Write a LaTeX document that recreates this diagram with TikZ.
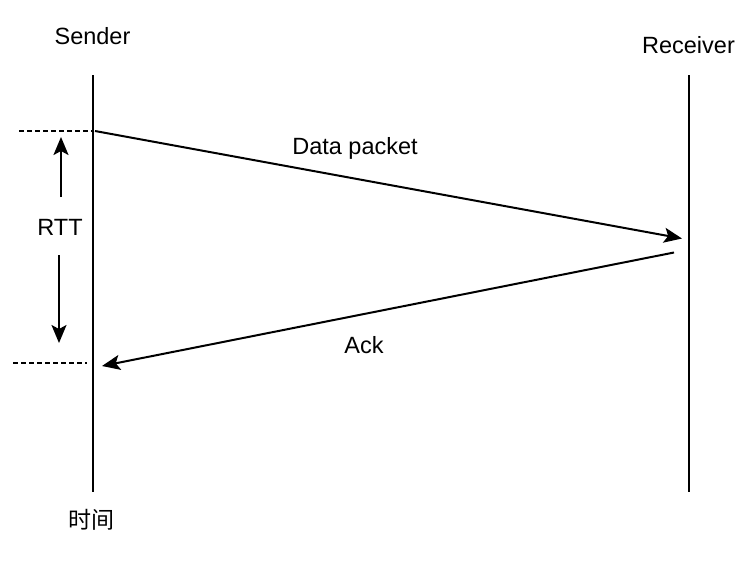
\documentclass[tikz,border=0pt]{standalone}
\usepackage{fontspec}
\setmainfont{Liberation Sans}
\newfontfamily\cjk{Noto Sans CJK SC}
\usetikzlibrary{arrows.meta}
\tikzset{
  lbl/.style={inner sep=0pt, text height=17pt, text depth=0pt, font=\fontsize{23.5}{28}\selectfont},
  cjklbl/.style={inner sep=0pt, text height=17pt, text depth=0pt, font=\fontsize{23}{28}\selectfont\cjk},
  lifeline/.style={line width=2pt},
  msg/.style={line width=2pt, -{Stealth[length=18pt, width=15pt, inset=4pt]}},
  guide/.style={line width=1.5pt, dash pattern=on 4.5pt off 3.5pt},
}
\begin{document}
\begin{tikzpicture}[x=1pt, y=-1pt]
\useasboundingbox (0,0) rectangle (750,584);
% labels
\node[lbl] (sender) at (92.5,36) {Sender};
\node[lbl] (receiver) at (688.5,45) {Receiver};
\node[lbl] (datalbl) at (355,145.5) {Data packet};
\node[lbl] (acklbl) at (364,345) {Ack};
\node[lbl] (rtt) at (60,227) {RTT};
\node[cjklbl] (time) at (91.5,520) {时间};
% lifelines
\coordinate (sTop) at (93,75);
\coordinate (sBot) at (93,492);
\coordinate (rTop) at (689,75);
\coordinate (rBot) at (689,492);
\draw[lifeline] (sTop) -- (sBot);
\draw[lifeline] (rTop) -- (rBot);
% dashed guides
\coordinate (d1a) at (19,131);
\coordinate (d1b) at (92,131);
\coordinate (d2a) at (13,363);
\coordinate (d2b) at (87,363);
\draw[guide] (d1a) -- (d1b);
\draw[guide] (d2a) -- (d2b);
% messages
\coordinate (dataS) at (95,131);
\coordinate (dataE) at (682,238.5);
\coordinate (ackS) at (674,252.5);
\coordinate (ackE) at (102,366);
\draw[msg] (dataS) -- (dataE);
\draw[msg] (ackS) -- (ackE);
% RTT arrows
\coordinate (upS) at (61,197);
\coordinate (upE) at (61,137);
\coordinate (dnS) at (59,255);
\coordinate (dnE) at (59,343);
\draw[msg] (upS) -- (upE);
\draw[msg] (dnS) -- (dnE);
\end{tikzpicture}
\end{document}
